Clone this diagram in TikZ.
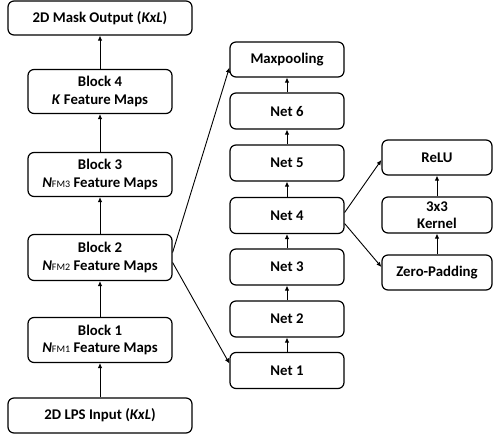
\documentclass[tikz,border=0pt]{standalone}
\usepackage{fontspec}
\setmainfont{Carlito}
\usetikzlibrary{arrows.meta}
\begin{document}
\begin{tikzpicture}[x=1pt,y=-1pt,
  box/.style={draw=black,line width=1.2pt,rounded corners=6pt,inner sep=0pt,align=center,font=\fontsize{14.8}{17.5}\selectfont\bfseries},
  arr/.style={line width=0.9pt,-{Latex[length=5pt,width=4.5pt]}}]
\newcommand{\subfm}[1]{{\fontsize{10}{10}\selectfont\normalfont #1}}
\useasboundingbox (0,0) rectangle (493,437);
\node[box,minimum width=184pt,minimum height=34pt] (out) at (100,18) {2D Mask Output (\textit{KxL})};
\node[box,minimum width=144pt,minimum height=44pt] (b4) at (100,91.5) {Block 4\\\textit{K} Feature Maps};
\node[box,minimum width=144pt,minimum height=44pt] (b3) at (100,174.5) {Block 3\\\textit{N}\subfm{FM3} Feature Maps};
\node[box,minimum width=144pt,minimum height=46pt] (b2) at (100,257.5) {Block 2\\\textit{N}\subfm{FM2} Feature Maps};
\node[box,minimum width=144pt,minimum height=45pt] (b1) at (100,340) {Block 1\\\textit{N}\subfm{FM1} Feature Maps};
\node[box,minimum width=184pt,minimum height=35pt] (in) at (100,415.5) {2D LPS Input (\textit{KxL})};
\node[box,minimum width=114pt,minimum height=35pt] (mp) at (287,59.5) {Maxpooling};
\node[box,minimum width=114pt,minimum height=36pt] (n6) at (287,111) {Net 6};
\node[box,minimum width=114pt,minimum height=36pt] (n5) at (287,163) {Net 5};
\node[box,minimum width=114pt,minimum height=36pt] (n4) at (287,215.5) {Net 4};
\node[box,minimum width=114pt,minimum height=36pt] (n3) at (287,267) {Net 3};
\node[box,minimum width=114pt,minimum height=36pt] (n2) at (287,319) {Net 2};
\node[box,minimum width=114pt,minimum height=36pt] (n1) at (287,370.5) {Net 1};
\node[box,minimum width=110pt,minimum height=35pt] (relu) at (437,157.5) {ReLU};
\node[box,minimum width=110pt,minimum height=36pt] (ker) at (437,215) {3x3\\Kernel};
\node[box,minimum width=110pt,minimum height=35pt] (zp) at (437,272.5) {Zero-Padding};
\draw[arr] (in) -- (b1);
\draw[arr] (b1) -- (b2);
\draw[arr] (b2) -- (b3);
\draw[arr] (b3) -- (b4);
\draw[arr] (b4) -- (out);
\draw[arr] (n1) -- (n2);
\draw[arr] (n2) -- (n3);
\draw[arr] (n3) -- (n4);
\draw[arr] (n4) -- (n5);
\draw[arr] (n5) -- (n6);
\draw[arr] (n6) -- (mp);
\draw[arr] (zp) -- (ker);
\draw[arr] (ker) -- (relu);
\draw[arr] ([yshift=5pt]b2.east) -- ([yshift=-8pt]mp.west);
\draw[arr] ([yshift=-5pt]b2.east) -- ([yshift=7pt]n1.west);
\draw[arr] ([yshift=3pt]n4.east) -- ([yshift=-2.5pt]relu.west);
\draw[arr] ([yshift=-8pt]n4.east) -- ([yshift=5.5pt]zp.west);
\end{tikzpicture}
\end{document}
